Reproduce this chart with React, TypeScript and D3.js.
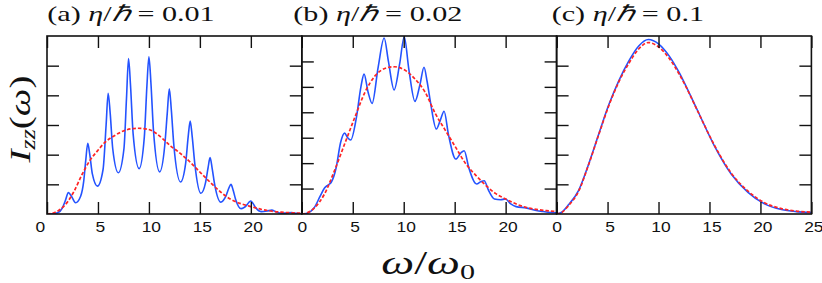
import React, { useRef, useEffect } from "react";
import * as d3 from "d3";

type Pt = [number, number];

// omega/omega0 ticks shared by all panels
const xTicks = [0, 5, 10, 15, 20, 25];
const panelTags = ["(a)", "(b)", "(c)"];
const etaValues = ["0.01", "0.02", "0.1"];
const yMaxes = [6, 7, 6];
const yTicksA = [1, 2, 3, 4, 5];
const yTicksB = [1, 2, 3, 4, 5, 6];
const yTicksC = [1, 2, 3, 4, 5];

// (a) eta/hbar = 0.01
const blueA: Pt[] = [
  [0, 0], [0.6, 0.01], [1.1, 0.05], [1.5, 0.2], [1.8, 0.45], [2.1, 0.72], [2.4, 0.6],
  [2.8, 0.38], [3.3, 0.6], [3.6, 1.1], [3.8, 1.8], [4.0, 2.38], [4.2, 2.0], [4.45, 1.35],
  [4.95, 0.94], [5.5, 1.5], [5.8, 3.0], [6.0, 4.07], [6.2, 3.4], [6.45, 2.2], [7.0, 1.39],
  [7.55, 2.2], [7.8, 3.9], [8.0, 5.24], [8.2, 4.3], [8.45, 2.7], [9.04, 1.53], [9.55, 2.6],
  [9.8, 4.3], [10.0, 5.3], [10.2, 4.4], [10.45, 2.8], [11.05, 1.42], [11.55, 2.3],
  [11.8, 3.4], [12.0, 4.22], [12.2, 3.5], [12.45, 2.3], [13.1, 1.08], [13.6, 1.7],
  [13.85, 2.6], [14.05, 3.13], [14.25, 2.6], [14.5, 1.7], [15.1, 0.7], [15.55, 1.05],
  [15.8, 1.55], [16.0, 1.9], [16.2, 1.55], [16.45, 1.0], [17.05, 0.4], [17.55, 0.6],
  [17.85, 0.88], [18.05, 1.0], [18.25, 0.82], [18.5, 0.5], [19.05, 0.18], [19.6, 0.3],
  [19.85, 0.41], [20.0, 0.44], [20.2, 0.36], [20.5, 0.2], [21.0, 0.08], [21.6, 0.1],
  [22.05, 0.13], [22.5, 0.07], [23.0, 0.03], [23.5, 0.03], [24.0, 0.05], [24.5, 0.02],
  [25, 0.01],
];
const redA: Pt[] = [
  [0, 0], [0.5, 0.02], [1.31, 0.16], [2.0, 0.4], [2.63, 0.75], [3.45, 1.34], [4.2, 1.8],
  [4.93, 2.12], [5.7, 2.42], [6.57, 2.63], [7.5, 2.8], [8.9, 2.89], [9.86, 2.86],
  [10.7, 2.72], [11.5, 2.49], [12.13, 2.29], [12.8, 2.12], [14.1, 1.73], [15.1, 1.38],
  [16.07, 1.05], [17.0, 0.75], [18.04, 0.49], [19.0, 0.35], [20.0, 0.25], [21.0, 0.16],
  [21.97, 0.1], [23.0, 0.06], [24.0, 0.04], [25, 0.03],
];

// (b) eta/hbar = 0.02
const blueB: Pt[] = [
  [0, 0], [0.5, 0.03], [1.24, 0.26], [1.8, 0.7], [2.23, 1.02], [2.6, 1.15], [2.89, 1.25],
  [3.38, 1.84], [3.8, 2.8], [4.2, 3.18], [4.5, 3.0], [4.8, 2.91], [5.36, 3.8], [5.8, 5.0],
  [6.11, 5.5], [6.5, 4.8], [6.9, 4.35], [7.49, 5.77], [8.08, 6.92], [8.5, 6.0], [9.06, 4.88],
  [9.6, 5.9], [10.05, 6.97], [10.5, 5.7], [11.1, 4.43], [11.6, 5.1], [11.99, 5.77],
  [12.3, 5.2], [12.65, 4.33], [13.2, 3.34], [13.6, 3.7], [13.96, 4.04], [14.4, 3.1],
  [15.11, 2.16], [15.6, 2.4], [15.93, 2.49], [16.4, 1.8], [17.15, 1.18], [17.6, 1.28],
  [17.9, 1.31], [18.3, 0.95], [18.9, 0.59], [19.5, 0.56], [19.98, 0.59], [20.5, 0.4],
  [21.03, 0.29], [22.0, 0.24], [23.0, 0.14], [23.65, 0.1], [24.5, 0.06], [25, 0.05],
];
const redB: Pt[] = [
  [0, 0], [0.5, 0.04], [1.24, 0.24], [2.23, 0.79], [3.2, 1.7], [4.2, 2.75], [5.2, 3.8],
  [6.2, 4.79], [7.2, 5.44], [8.2, 5.73], [9.1, 5.79], [10.1, 5.66], [11.1, 5.31],
  [12.1, 4.79], [13.1, 3.95], [14.1, 3.28], [15.1, 2.62], [16.1, 1.97], [17.1, 1.51],
  [18.1, 1.11], [19.0, 0.81], [20.0, 0.59], [21.0, 0.4], [22.0, 0.26], [23.0, 0.18],
  [24.0, 0.13], [25, 0.1],
];

// (c) eta/hbar = 0.1
const blueC: Pt[] = [
  [0, 0], [0.5, 0.06], [1.17, 0.31], [2.15, 0.79], [3.14, 1.68], [4.13, 2.69], [5.12, 3.68],
  [6.1, 4.49], [7.09, 5.16], [8.08, 5.67], [9.0, 5.88], [10.05, 5.72], [11.04, 5.33],
  [12.02, 4.77], [12.68, 4.32], [13.84, 3.48], [15.48, 2.3], [17.13, 1.35], [18.78, 0.73],
  [20.4, 0.34], [22.06, 0.15], [23.5, 0.08], [25, 0.05],
];
const redC: Pt[] = [
  [0, 0], [0.5, 0.05], [1.17, 0.28], [2.15, 0.76], [3.14, 1.66], [4.13, 2.67], [5.12, 3.65],
  [6.1, 4.45], [7.09, 5.08], [8.08, 5.57], [9.0, 5.78], [10.05, 5.62], [11.04, 5.25],
  [12.02, 4.72], [12.68, 4.3], [13.84, 3.47], [15.48, 2.32], [17.13, 1.38], [18.78, 0.77],
  [20.4, 0.38], [22.06, 0.18], [23.5, 0.1], [25, 0.06],
];

const App = () => {
  const svgRef = useRef<SVGSVGElement>(null);

  useEffect(() => {
    const w = 822;
    const h = 283;
    const left = 47;
    const pw = 254.8;
    const top = 36;
    const bottom = 214;
    const stretch = 1.37; // the original figure is wider than tall
    const serif = "'Liberation Serif'";
    const sans = "'Liberation Sans'";

    const svg = d3.select(svgRef.current).attr("width", w).attr("height", h);
    svg.selectAll("*").remove();

    const panels = [
      { blue: blueA, red: redA, yTicks: yTicksA },
      { blue: blueB, red: redB, yTicks: yTicksB },
      { blue: blueC, red: redC, yTicks: yTicksC },
    ];
    const titleX = [47.3, 293.3, 551.7];

    panels.forEach((p, i) => {
      const x0 = left + i * pw;
      const x = d3.scaleLinear().domain([0, 25]).range([x0, x0 + pw]);
      const y = d3.scaleLinear().domain([0, yMaxes[i]]).range([bottom, top]);
      const g = svg.append("g");

      g.append("clipPath")
        .attr("id", `clip${i}`)
        .append("rect")
        .attr("x", x0)
        .attr("y", top)
        .attr("width", pw)
        .attr("height", bottom - top);

      const line = d3
        .line<Pt>()
        .x((d) => x(d[0]))
        .y((d) => y(d[1]))
        .curve(d3.curveMonotoneX);

      g.append("path")
        .attr("d", line(p.blue))
        .attr("fill", "none")
        .attr("stroke", "#2453ff")
        .attr("stroke-width", 1.6)
        .attr("clip-path", `url(#clip${i})`);

      g.append("path")
        .attr("d", line(p.red))
        .attr("fill", "none")
        .attr("stroke", "#ff2424")
        .attr("stroke-width", 1.7)
        .attr("stroke-dasharray", "3.5,2")
        .attr("clip-path", `url(#clip${i})`);

      // bottom axis with labels (25 only on last panel)
      const bx = g
        .append("g")
        .attr("transform", `translate(0,${bottom})`)
        .call(
          d3
            .axisBottom(x)
            .tickValues(xTicks)
            .tickSize(-12)
            .tickPadding(8)
            .tickFormat((d) => (d === 25 && i < 2 ? "" : String(d)))
        );
      bx.selectAll("text")
        .attr("font-family", sans)
        .attr("font-size", 14.5)
        .attr("fill", "#111")
        .attr("dx", (d) => (d === 0 ? (i === 0 ? -6 : 0) : 1.6))
        .attr("transform", "scale(1.2,1)");

      g.append("g")
        .attr("transform", `translate(0,${top})`)
        .call(d3.axisTop(x).tickValues(xTicks).tickSize(-12).tickFormat(() => ""));
      g.append("g")
        .attr("transform", `translate(${x0},0)`)
        .call(d3.axisLeft(y).tickValues(p.yTicks).tickSize(-12).tickFormat(() => ""));
      g.append("g")
        .attr("transform", `translate(${x0 + pw},0)`)
        .call(d3.axisRight(y).tickValues(p.yTicks).tickSize(-12).tickFormat(() => ""));

      g.selectAll(".domain").remove();
      g.selectAll(".tick line").attr("stroke", "#111").attr("stroke-width", 1.4);

      g.append("rect")
        .attr("x", x0)
        .attr("y", top)
        .attr("width", pw)
        .attr("height", bottom - top)
        .attr("fill", "none")
        .attr("stroke", "#111")
        .attr("stroke-width", 1.6);

      // panel title
      const t = svg
        .append("text")
        .attr("transform", `translate(${titleX[i]},20.5) scale(${stretch},1)`)
        .attr("font-family", serif)
        .attr("font-size", 22)
        .attr("fill", "#111")
        .style("white-space", "pre");
      t.append("tspan").text(`${panelTags[i]} `);
      t.append("tspan").attr("font-style", "italic").text("η");
      t.append("tspan").text("/");
      t.append("tspan").attr("font-style", "italic").text("ℏ");
      t.append("tspan").text(` = ${etaValues[i]}`);
    });

    // y label
    const yl = svg
      .append("text")
      .attr("transform", "translate(30,119) rotate(-90) scale(1.3,1)")
      .attr("text-anchor", "middle")
      .attr("font-family", serif)
      .attr("font-size", 30)
      .attr("fill", "#111");
    yl.append("tspan").attr("font-style", "italic").text("I");
    yl.append("tspan").attr("font-style", "italic").attr("font-size", 20).attr("dy", 5).text("zz");
    yl.append("tspan").attr("dy", -5).text("(");
    yl.append("tspan").attr("font-style", "italic").text("ω");
    yl.append("tspan").text(")");

    // x label: main part ends where the subscript starts
    const xl = svg
      .append("text")
      .attr("transform", `translate(460,274) scale(${stretch},1)`)
      .attr("text-anchor", "end")
      .attr("font-family", serif)
      .attr("font-size", 34)
      .attr("fill", "#111");
    xl.append("tspan").attr("font-style", "italic").text("ω");
    xl.append("tspan").text("/");
    xl.append("tspan").attr("font-style", "italic").text("ω");
    svg
      .append("text")
      .attr("transform", `translate(460,279) scale(${stretch},1)`)
      .attr("font-family", serif)
      .attr("font-size", 22)
      .attr("fill", "#111")
      .text("0");
  }, []);

  return (
    <div style={{ position: "absolute", left: 0, top: 0 }}>
      <svg ref={svgRef}></svg>
    </div>
  );
};

export default App;
